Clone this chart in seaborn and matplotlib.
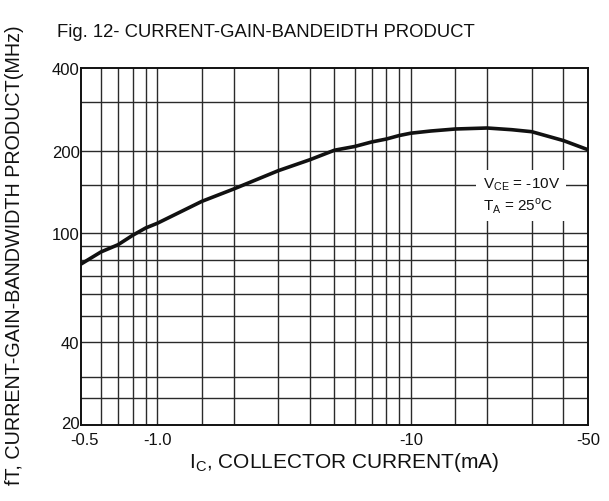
import matplotlib
matplotlib.use("Agg")
import matplotlib.pyplot as plt
import matplotlib.transforms as mtransforms
from matplotlib.ticker import FixedLocator, NullFormatter
import seaborn as sns
import pandas as pd

# Collector current (mA, magnitude) and transition frequency fT (MHz)
ic_ma = [0.5, 0.6, 0.7, 0.8, 0.9, 1.0, 1.5, 2, 3, 4, 5, 6, 7, 8, 9, 10,
         12, 15, 20, 25, 30, 40, 50]
ft_mhz = [77.2, 85.5, 90.8, 98.3, 104.5, 108.7, 130.7, 144.9, 169.0, 185.3,
          200.7, 207.0, 215.0, 220.4, 227.0, 231.5, 235.8, 239.8, 241.8,
          238.4, 234.4, 217.6, 201.5]

x_ticks = [0.5, 1.0, 10, 50]
x_ticklabels = ["-0.5", "-1.0", "-10", "-50"]
y_ticks = [20, 40, 100, 200, 400]
y_ticklabels = ["20", "40", "100", "200", "400"]

x_grid = [0.6, 0.7, 0.8, 0.9, 1, 1.5, 2, 3, 4, 5, 6, 7, 8, 9, 10, 15, 20, 30, 40]
y_grid = [25, 30, 40, 50, 60, 70, 80, 90, 100, 150, 200, 300]

sns.set_style("white")
plt.rcParams["font.family"] = ["Liberation Sans", "DejaVu Sans"]
plt.rcParams["mathtext.fontset"] = "custom"
plt.rcParams["mathtext.rm"] = "Liberation Sans"

df = pd.DataFrame({"ic": ic_ma, "ft": ft_mhz})

fig = plt.figure(figsize=(6.09, 5.02), dpi=100)
ax = fig.add_axes([0.133, 0.1514, 0.8325, 0.7111])

ax.set_xscale("log")
ax.set_yscale("log")
ax.set_xlim(0.5, 50)
ax.set_ylim(20, 400)

# grid lines on every decade subdivision
for v in x_grid:
    ax.axvline(v, color="#2a2a2a", lw=1.0, zorder=1)
for v in y_grid:
    ax.axhline(v, color="#2a2a2a", lw=1.0, zorder=1)

sns.lineplot(data=df, x="ic", y="ft", ax=ax, color="#111111", lw=2.6,
             zorder=3, legend=False)

ax.xaxis.set_major_locator(FixedLocator(x_ticks))
ax.xaxis.set_minor_locator(FixedLocator([]))
ax.yaxis.set_major_locator(FixedLocator(y_ticks))
ax.yaxis.set_minor_locator(FixedLocator([]))
ax.xaxis.set_minor_formatter(NullFormatter())
ax.yaxis.set_minor_formatter(NullFormatter())
ax.set_xticklabels(x_ticklabels, fontsize=12)
ax.set_yticklabels(y_ticklabels, fontsize=12)
ax.tick_params(axis="both", length=0, colors="#111111")
ax.tick_params(axis="y", pad=1)
ax.tick_params(axis="x", pad=5)
ax.set_xlabel("")
ax.set_ylabel("")

# nudge the corner labels apart
xlabels = ax.get_xticklabels()
xlabels[0].set_transform(xlabels[0].get_transform()
                         + mtransforms.ScaledTranslation(4 / 100, 0, fig.dpi_scale_trans))
ylabels = ax.get_yticklabels()
ylabels[0].set_transform(ylabels[0].get_transform()
                         + mtransforms.ScaledTranslation(0, 2.5 / 100, fig.dpi_scale_trans))

for sp in ax.spines.values():
    sp.set_visible(True)
    sp.set_color("#111111")
    sp.set_linewidth(1.4)
    sp.set_zorder(4)

ax.text(0.792, 0.643,
        "V$_\\mathregular{CE}$ = -10V\nT$_\\mathregular{A}$ = 25$^\\mathregular{o}$C",
        transform=ax.transAxes, ha="left", va="center", fontsize=11,
        linespacing=1.25, color="#111111", zorder=5,
        bbox=dict(boxstyle="square,pad=0.4", fc="white", ec="none"))

fig.text(0.437, 0.936, "Fig. 12- CURRENT-GAIN-BANDEIDTH PRODUCT",
         ha="center", va="center", fontsize=13.3, color="#111111")
fig.text(0.565, 0.078, "I$_\\mathregular{C}$, COLLECTOR CURRENT(mA)",
         ha="center", va="center", fontsize=15, color="#111111")
fig.text(0.023, 0.492, "fT, CURRENT-GAIN-BANDWIDTH PRODUCT(MHz)",
         ha="center", va="center", rotation=90, fontsize=14.2, color="#111111")

fig.savefig("out.png", dpi=100, facecolor="white")
